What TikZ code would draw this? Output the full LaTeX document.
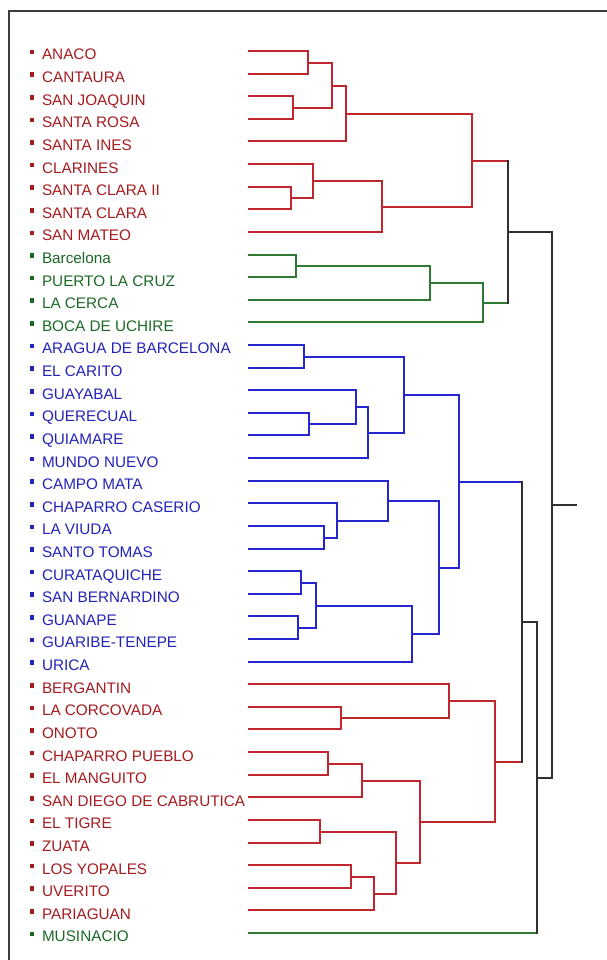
\documentclass[tikz,border=0pt]{standalone}
\usepackage{fontspec}
\setmainfont{Liberation Sans}
\usetikzlibrary{calc}
\definecolor{labR}{RGB}{165,28,32}
\definecolor{labG}{RGB}{28,105,38}
\definecolor{labB}{RGB}{35,35,185}
\definecolor{lineR}{RGB}{192,38,45}
\definecolor{lineG}{RGB}{45,122,52}
\definecolor{lineB}{RGB}{38,38,205}
\definecolor{lineK}{RGB}{48,48,48}
\definecolor{frameK}{RGB}{60,60,60}
\newcommand\mkjoin[4]{\path let \p1=($(#2)!.5!(#3)$), \n1={round(\y1)} in coordinate (#1) at (#4pt,\n1);}
\newcommand\mkbrk[4]{\draw[#4] (#2) -| (#1) |- (#3);}
\begin{document}
\begin{tikzpicture}[x=1pt,y=-1pt,line width=2pt,line join=miter,
  labtext/.style={anchor=base west,inner sep=0pt,font=\fontsize{15.3}{17}\selectfont},
  bullet/.style={fill,inner sep=0pt,minimum size=4.6pt,draw=none},
  framestyle/.style={draw=frameK,line width=1.3pt}]
\useasboundingbox (0,0) rectangle (607,960);
\fill[white] (0,0) rectangle (607,960);
\draw[framestyle] (607,11) -- (9,11) -- (9,960);
% labels
\begin{scope}
\clip (0,0) rectangle (246,960);
\foreach \i/\t/\c in {0/ANACO/R,1/CANTAURA/R,2/SAN JOAQUIN/R,3/SANTA ROSA/R,4/SANTA INES/R,
  5/CLARINES/R,6/SANTA CLARA II/R,7/SANTA CLARA/R,8/SAN MATEO/R,
  9/Barcelona/G,10/PUERTO LA CRUZ/G,11/LA CERCA/G,12/BOCA DE UCHIRE/G,
  13/ARAGUA DE BARCELONA/B,14/EL CARITO/B,15/GUAYABAL/B,16/QUERECUAL/B,17/QUIAMARE/B,
  18/MUNDO NUEVO/B,19/CAMPO MATA/B,20/CHAPARRO CASERIO/B,21/LA VIUDA/B,22/SANTO TOMAS/B,
  23/CURATAQUICHE/B,24/SAN BERNARDINO/B,25/GUANAPE/B,26/GUARIBE-TENEPE/B,27/URICA/B,
  28/BERGANTIN/R,29/LA CORCOVADA/R,30/ONOTO/R,31/CHAPARRO PUEBLO/R,32/EL MANGUITO/R,
  33/SAN DIEGO DE CABRUTICA/R,34/EL TIGRE/R,35/ZUATA/R,36/LOS YOPALES/R,37/UVERITO/R,
  38/PARIAGUAN/R,39/MUSINACIO/G}{
  \node[labtext,text=lab\c] (t\i) at (41,{51+22.615*\i+9}) {\t};
  \node[bullet,fill=lab\c] (b\i) at (32,{51+22.615*\i+1}) {};
}
\end{scope}
% leaves
\foreach \i in {0,...,39}{\coordinate (l\i) at (248,{round(51+22.615*\i)});}
% red top
\mkjoin{a1}{l0}{l1}{308}
\mkjoin{a2}{l2}{l3}{293}
\mkjoin{a3}{a1}{a2}{332}
\mkjoin{a4}{a3}{l4}{346}
\mkjoin{b1}{l6}{l7}{291}
\mkjoin{b2}{l5}{b1}{313}
\mkjoin{b3}{b2}{l8}{382}
\mkjoin{r1}{a4}{b3}{472}
% green
\mkjoin{g1}{l9}{l10}{296}
\mkjoin{g2}{g1}{l11}{430}
\mkjoin{g3}{g2}{l12}{483}
% blue
\mkjoin{c1}{l13}{l14}{304}
\mkjoin{c2}{l16}{l17}{309}
\mkjoin{c3}{l15}{c2}{356}
\mkjoin{c4}{c3}{l18}{368}
\mkjoin{c5}{c1}{c4}{404}
\mkjoin{d1}{l21}{l22}{324}
\mkjoin{d2}{l20}{d1}{337}
\mkjoin{d3}{l19}{d2}{388}
\mkjoin{e1}{l23}{l24}{301}
\mkjoin{e2}{l25}{l26}{298}
\mkjoin{e3}{e1}{e2}{316}
\mkjoin{e4}{e3}{l27}{412}
\mkjoin{f1}{d3}{e4}{439}
\mkjoin{u1}{c5}{f1}{459}
% red lower
\mkjoin{h1}{l29}{l30}{341}
\mkjoin{h2}{l28}{h1}{449}
\mkjoin{i1}{l31}{l32}{328}
\mkjoin{i2}{i1}{l33}{362}
\mkjoin{j1}{l34}{l35}{320}
\mkjoin{j2}{l36}{l37}{351}
\mkjoin{j3}{j2}{l38}{374}
\mkjoin{j4}{j1}{j3}{396}
\mkjoin{i3}{i2}{j4}{420}
\mkjoin{h3}{h2}{i3}{495}
% black
\mkjoin{k1}{r1}{g3}{508}
\mkjoin{k2}{u1}{h3}{522}
\mkjoin{k3}{k2}{l39}{537}
\mkjoin{k4}{k1}{k3}{552}
\path let \p1=(k4) in coordinate (root) at (577pt,\y1);
% brackets
\mkbrk{a1}{l0}{l1}{lineR}
\mkbrk{a2}{l2}{l3}{lineR}
\mkbrk{a3}{a1}{a2}{lineR}
\mkbrk{a4}{a3}{l4}{lineR}
\mkbrk{b1}{l6}{l7}{lineR}
\mkbrk{b2}{l5}{b1}{lineR}
\mkbrk{b3}{b2}{l8}{lineR}
\mkbrk{r1}{a4}{b3}{lineR}
\mkbrk{g1}{l9}{l10}{lineG}
\mkbrk{g2}{g1}{l11}{lineG}
\mkbrk{g3}{g2}{l12}{lineG}
\mkbrk{c1}{l13}{l14}{lineB}
\mkbrk{c2}{l16}{l17}{lineB}
\mkbrk{c3}{l15}{c2}{lineB}
\mkbrk{c4}{c3}{l18}{lineB}
\mkbrk{c5}{c1}{c4}{lineB}
\mkbrk{d1}{l21}{l22}{lineB}
\mkbrk{d2}{l20}{d1}{lineB}
\mkbrk{d3}{l19}{d2}{lineB}
\mkbrk{e1}{l23}{l24}{lineB}
\mkbrk{e2}{l25}{l26}{lineB}
\mkbrk{e3}{e1}{e2}{lineB}
\mkbrk{e4}{e3}{l27}{lineB}
\mkbrk{f1}{d3}{e4}{lineB}
\mkbrk{u1}{c5}{f1}{lineB}
\mkbrk{h1}{l29}{l30}{lineR}
\mkbrk{h2}{l28}{h1}{lineR}
\mkbrk{i1}{l31}{l32}{lineR}
\mkbrk{i2}{i1}{l33}{lineR}
\mkbrk{j1}{l34}{l35}{lineR}
\mkbrk{j2}{l36}{l37}{lineR}
\mkbrk{j3}{j2}{l38}{lineR}
\mkbrk{j4}{j1}{j3}{lineR}
\mkbrk{i3}{i2}{j4}{lineR}
\mkbrk{h3}{h2}{i3}{lineR}
% black joins: horizontals in child colour, verticals black
\draw[lineR] (r1) -- (r1 -| k1);
\draw[lineG] (g3) -- (g3 -| k1);
\draw[lineK,line cap=rect] (r1 -| k1) -- (g3 -| k1);
\draw[lineB] (u1) -- (u1 -| k2);
\draw[lineR] (h3) -- (h3 -| k2);
\draw[lineK,line cap=rect] (u1 -| k2) -- (h3 -| k2);
\draw[lineK] (k2) -- (k2 -| k3);
\draw[lineG] (l39) -- (l39 -| k3);
\draw[lineK,line cap=rect] (k2 -| k3) -- (l39 -| k3);
\draw[lineK] (k1) -- (k1 -| k4);
\draw[lineK] (k3) -- (k3 -| k4);
\draw[lineK,line cap=rect] (k1 -| k4) -- (k3 -| k4);
\draw[lineK] (k4) -- (root);
\end{tikzpicture}
\end{document}
